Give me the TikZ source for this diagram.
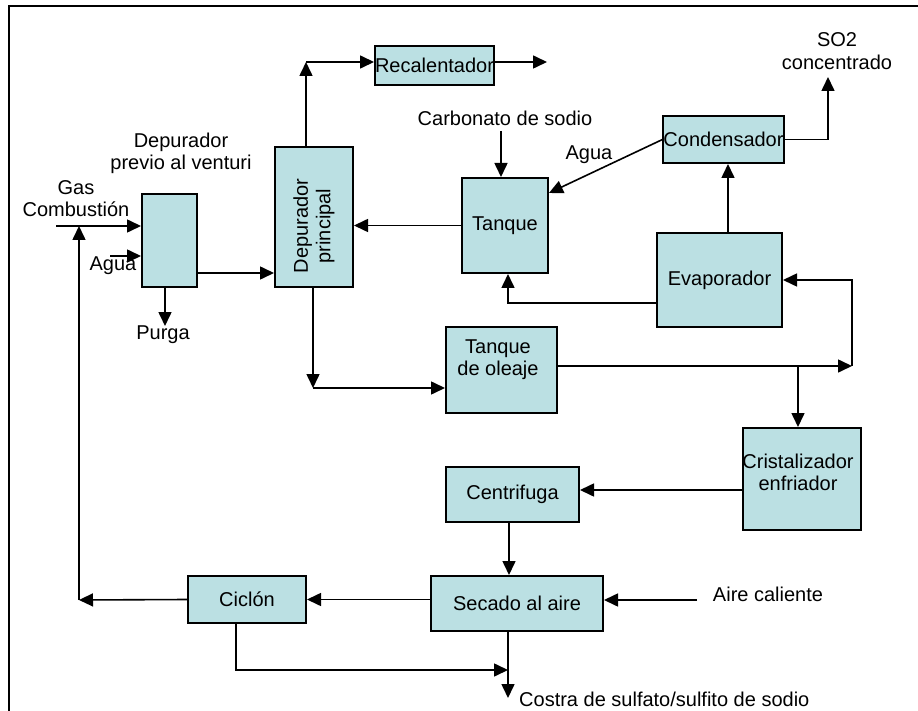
\documentclass[tikz,border=0pt]{standalone}
\usepackage{fontspec}
\setmainfont{Liberation Sans}
\usetikzlibrary{arrows.meta}
\definecolor{boxfill}{HTML}{BBE0E3}
\tikzset{
  every node/.style={font=\fontsize{20}{22.5}\selectfont, inner sep=0pt},
  procbox/.style={draw=black, line width=2pt, fill=boxfill, align=center},
  lbl/.style={align=center},
  arr/.style={line width=1.6pt, -{Triangle[length=14pt,width=13pt]}},
  ln/.style={line width=1.6pt}
}
\begin{document}
\begin{tikzpicture}[x=1pt,y=-1pt]
\useasboundingbox (0,0) rectangle (918,711);
\fill[white] (0,0) rectangle (918,711);
\draw[line width=2.2pt] (918,6) -- (9,6) -- (9,711);

% boxes
\node[procbox, minimum width=55pt, minimum height=93pt] (pv) at (169.5,240.5) {};
\node[procbox, minimum width=78pt, minimum height=140pt] (dp) at (314,217) {};
\node[procbox, minimum width=117pt, minimum height=39pt] (rec) at (434.5,65.5) {Recalentador};
\node[procbox, minimum width=86pt, minimum height=95pt] (tq) at (505,225.5) {Tanque};
\node[procbox, minimum width=117pt, minimum height=47pt] (cond) at (723.5,139.5) {Condensador};
\node[procbox, minimum width=125pt, minimum height=94pt] (evap) at (719.5,280) {Evaporador};
\node[procbox, minimum width=111pt, minimum height=86pt] (tol) at (501.5,370) {};
\node[procbox, minimum width=118pt, minimum height=102pt] (cris) at (802,479) {};
\node[procbox, minimum width=133pt, minimum height=55pt] (cen) at (512.5,494.5) {Centrifuga};
\node[procbox, minimum width=172pt, minimum height=55pt] (sec) at (517,603.5) {Secado al aire};
\node[procbox, minimum width=118pt, minimum height=47pt] (cic) at (247,599.5) {Ciclón};

% texts inside boxes (off-centre)
\node[lbl, rotate=90] (tdp) at (314,226) {Depurador\\principal};
\node[lbl] (ttol) at (498,359.5) {Tanque\\de oleaje};
\node[lbl] (tcris) at (798,472.5) {Cristalizador\\enfriador};

% free labels
\node[lbl] (tgas) at (76,198.5) {Gas\\Combustión};
\node[lbl] (tprevio) at (181,153.5) {Depurador\\previo al venturi};
\node[lbl] (tagua1) at (113,266) {Agua};
\node[lbl] (tpurga) at (163,335) {Purga};
\node[lbl] (tcarb) at (505,118) {Carbonato de sodio};
\node[lbl] (tagua2) at (589,155) {Agua};
\node[lbl] (tso2) at (837,51) {SO2\\concentrado};
\node[lbl] (taire) at (768,594) {Aire caliente};
\node[lbl, anchor=west] (tcostra) at (519,699) {Costra de sulfato/sulfito de sodio};

% coordinates
\coordinate (gasS) at (56,226);
\coordinate (retT) at (79,226);
\coordinate (retB) at (79,600);
\coordinate (aguaS) at (110,256);
\coordinate (purga) at (165,326);
\coordinate (dpT) at (306,62);
\coordinate (recO) at (547,62);
\coordinate (carb) at (501,131);
\coordinate (so2) at (828,77);
\coordinate (rj) at (852,366);
\coordinate (br) at (798,366);
\coordinate (dpB) at (313,388);
\coordinate (aire) at (697,600);
\coordinate (costra) at (508,698);
\coordinate (cj) at (508,670);

% connectors
\draw[arr] (gasS) -- (pv.west |- gasS);
\draw[arr] (retB) -- (retT);
\draw[arr] (aguaS) -- (pv.west |- aguaS);
\draw[arr] (pv.east |- 0,273) -- (dp.west |- 0,273);
\draw[arr] (purga |- pv.south) -- (purga);
\draw[arr] (dpT |- dp.north) -- (dpT);
\draw[arr] (dpT) -- (rec.west |- dpT);
\draw[arr] (rec.east |- recO) -- (recO);
\draw[arr] (tq.west) -- (dp.east |- tq.west);
\draw[arr] (carb) -- (carb |- tq.north);
\draw[arr] (cond.west) -- (tq.east |- 0,193);
\draw[arr] (cond.east) -| (so2);
\draw[arr] (evap.north -| 728,0) -- (cond.south -| 728,0);
\draw[arr] (evap.west |- 0,303) -| (tq.south -| 508,0);
\draw[arr] (tol.east |- rj) -- (rj);
\draw[arr] (rj) |- (evap.east);
\draw[arr] (br) -- (cris.north -| br);
\draw[arr] (dpB |- dp.south) -- (dpB);
\draw[arr] (dpB) -- (tol.west |- dpB);
\draw[arr] (cris.west |- 0,490) -- (cen.east |- 0,490);
\draw[arr] (cen.south -| 509,0) -- (sec.north -| 509,0);
\draw[arr] (aire) -- (sec.east |- aire);
\draw[arr] (sec.west |- cic.east) -- (cic.east);
\draw[arr] (cic.west) -- (retB);
\draw[arr] (costra |- sec.south) -- (costra);
\draw[arr] (cic.south -| 236,0) |- (cj);
\end{tikzpicture}
\end{document}
